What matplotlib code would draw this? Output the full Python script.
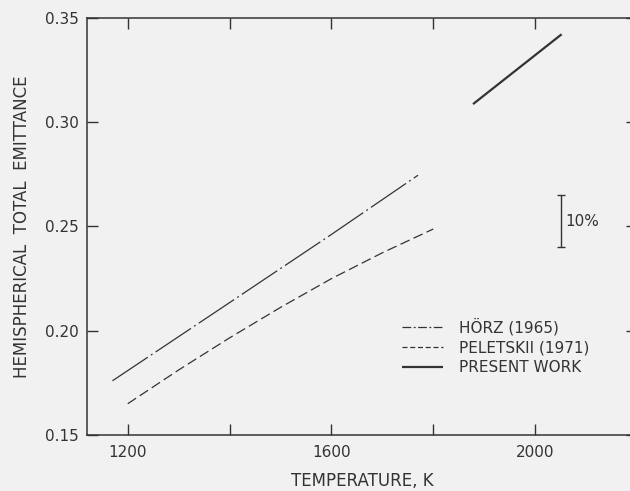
import numpy as np
import matplotlib
matplotlib.use("Agg")
import matplotlib.pyplot as plt
from matplotlib.lines import Line2D

# curves (temperature K, emittance)
horz_T = [1170, 1400, 1600, 1770]
horz_E = [0.176, 0.2135, 0.2462, 0.2746]

pelet_T = [1200, 1300, 1400, 1500, 1600, 1700, 1800]
pelet_E = [0.165, 0.1812, 0.1966, 0.2112, 0.2250, 0.2374, 0.2488]

present_T = [1878, 2052]
present_E = [0.3087, 0.3422]

# 10% error bar
bar_T = 2051
bar_lo, bar_hi = 0.240, 0.265

labels = ["HÖRZ (1965)", "PELETSKII (1971)", "PRESENT WORK"]
xticks = [1200, 1400, 1600, 1800, 2000]
xlabels = ["1200", "", "1600", "", "2000"]
yticks = [0.15, 0.20, 0.25, 0.30, 0.35]
ylabels = ["0.15", "0.20", "0.25", "0.30", "0.35"]

ink = "#333333"
bg = "#f1f1f1"

plt.rcParams["font.family"] = ["DejaVu Sans"]

fig = plt.figure(figsize=(6.3, 4.91), dpi=100, facecolor=bg)
ax = fig.add_axes([87 / 630, 56 / 491, 550 / 630, 417 / 491], facecolor=bg)

ax.plot(horz_T, horz_E, color=ink, lw=0.9, dashes=(34, 3, 1.5, 3))
ax.plot(pelet_T, pelet_E, color=ink, lw=0.9, dashes=(8, 3.5))
ax.plot(present_T, present_E, color=ink, lw=1.6, solid_capstyle="butt")

ax.errorbar([bar_T], [(bar_lo + bar_hi) / 2], yerr=[(bar_hi - bar_lo) / 2],
            fmt="none", ecolor=ink, elinewidth=1.0, capsize=3, capthick=1.0)
ax.text(bar_T + 9, (bar_lo + bar_hi) / 2, "10%", fontsize=11, color=ink,
        va="center", ha="left")

# legend handles use shorter dashes like the printed key
handles = [Line2D([], [], color=ink, lw=0.9, dashes=(7, 2, 1.5, 2)),
           Line2D([], [], color=ink, lw=0.9, dashes=(4, 2.2)),
           Line2D([], [], color=ink, lw=1.6, solid_capstyle="butt")]
leg = ax.legend(handles, labels, loc="upper left",
                bbox_to_anchor=(0.573, 0.28), frameon=False, fontsize=11,
                handlelength=2.7, handletextpad=1.0, labelspacing=0.3,
                borderpad=0, borderaxespad=0)
for t in leg.get_texts():
    t.set_color(ink)

ax.set_xlim(1120, 2200)
ax.set_ylim(0.15, 0.35)
ax.set_xticks(xticks)
ax.set_xticklabels(xlabels)
ax.set_yticks(yticks)
ax.set_yticklabels(ylabels)
ax.tick_params(direction="in", length=8, width=1.0, color=ink, labelcolor=ink,
               labelsize=11, top=True, right=True)
ax.tick_params(axis="x", pad=7)
ax.tick_params(axis="y", pad=6)
for s in ax.spines.values():
    s.set_color(ink)
    s.set_linewidth(1.1)

ax.set_xlabel("TEMPERATURE, K", fontsize=12, color=ink, labelpad=9)
ax.set_ylabel("HEMISPHERICAL  TOTAL  EMITTANCE", fontsize=12, color=ink,
              labelpad=10)

fig.savefig("out.png", dpi=100, facecolor=bg)
